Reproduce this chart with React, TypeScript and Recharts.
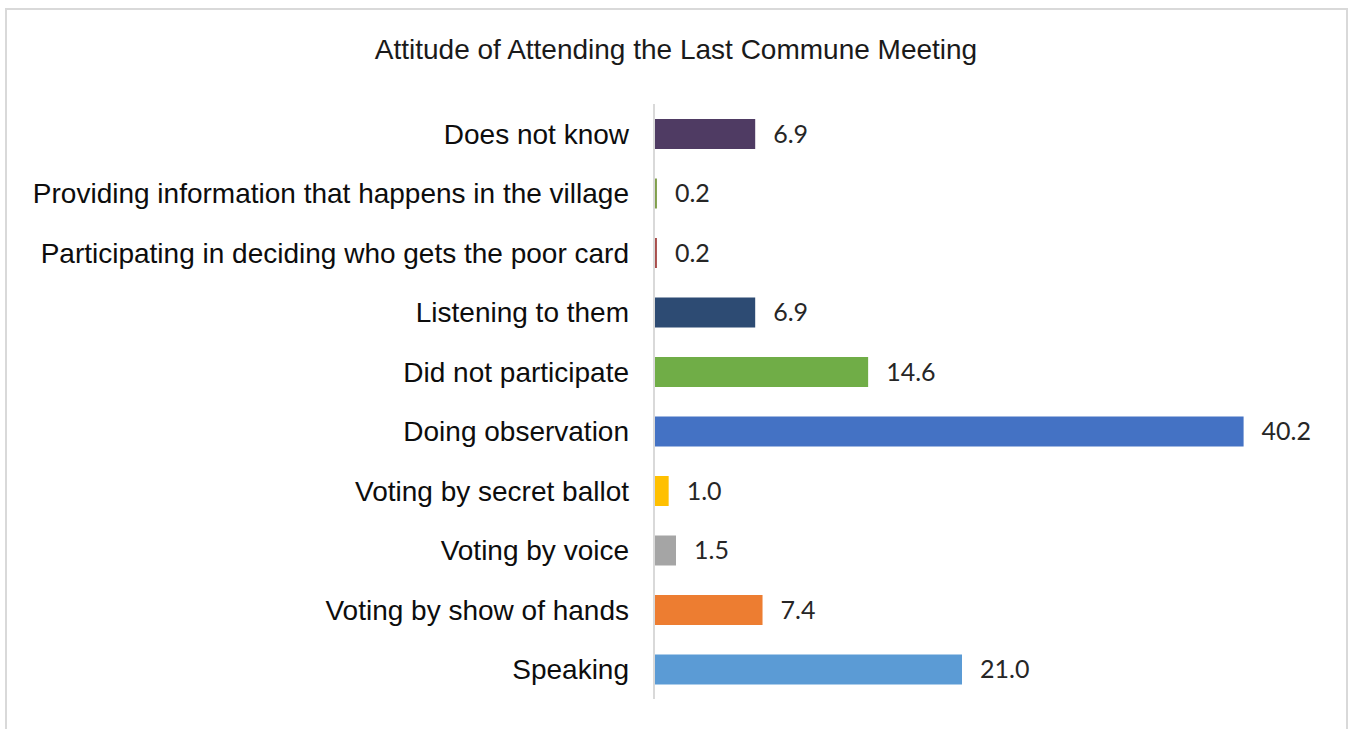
import React from "react";
import { BarChart, Bar, XAxis, YAxis, Cell, LabelList } from "recharts";

const categories = [
  "Does not know",
  "Providing information that happens in the village",
  "Participating in deciding who gets the poor card",
  "Listening to them",
  "Did not participate",
  "Doing observation",
  "Voting by secret ballot",
  "Voting by voice",
  "Voting by show of hands",
  "Speaking",
];
const values = [6.9, 0.2, 0.2, 6.9, 14.6, 40.2, 1.0, 1.5, 7.4, 21.0];
const colors = [
  "#4f3b63",
  "#7f9f4a",
  "#a84d4b",
  "#2d4b73",
  "#70ad47",
  "#4472c4",
  "#ffc000",
  "#a5a5a5",
  "#ed7d31",
  "#5b9bd5",
];
const title = "Attitude of Attending the Last Commune Meeting";

const data = categories.map((c, i) => ({ name: c, value: values[i] }));

export default function App() {
  return (
    <div
      style={{
        position: "absolute",
        left: 0,
        top: 0,
        width: 1352,
        height: 729,
        background: "#fff",
        overflow: "hidden",
      }}
    >
      <div
        style={{
          position: "absolute",
          left: 5,
          top: 8,
          width: 1339,
          height: 740,
          border: "2px solid #d9d9d9",
        }}
      />
      <div
        style={{
          position: "absolute",
          left: 0,
          top: 33,
          width: 1352,
          textAlign: "center",
          fontFamily: "'Liberation Sans', Arial, sans-serif",
          fontSize: 28,
          lineHeight: "34px",
          color: "#1a1a1a",
        }}
      >
        {title}
      </div>
      <div style={{ position: "absolute", left: 0, top: 0 }}>
        <BarChart
          width={1352}
          height={729}
          data={data}
          layout="vertical"
          margin={{ top: 104, right: 38, bottom: 30, left: 0 }}
        >
          <XAxis type="number" domain={[0, 45]} hide />
          <YAxis
            type="category"
            dataKey="name"
            width={654}
            tickLine={false}
            tickSize={0}
            tickMargin={25}
            axisLine={{ stroke: "#d9d9d9", strokeWidth: 2 }}
            tick={{
              fill: "#0d0d0d",
              fontSize: 28,
              fontFamily: "'Liberation Sans', Arial, sans-serif",
            }}
            interval={0}
          />
          <Bar dataKey="value" barSize={30} isAnimationActive={false}>
            {data.map((d, i) => (
              <Cell key={d.name} fill={colors[i]} />
            ))}
            <LabelList
              dataKey="value"
              position="right"
              offset={18}
              formatter={(v: number) => v.toFixed(1)}
              style={{
                fill: "#262626",
                fontSize: 25,
                fontFamily: "Lato, 'Open Sans', sans-serif",
              }}
            />
          </Bar>
        </BarChart>
      </div>
    </div>
  );
}
